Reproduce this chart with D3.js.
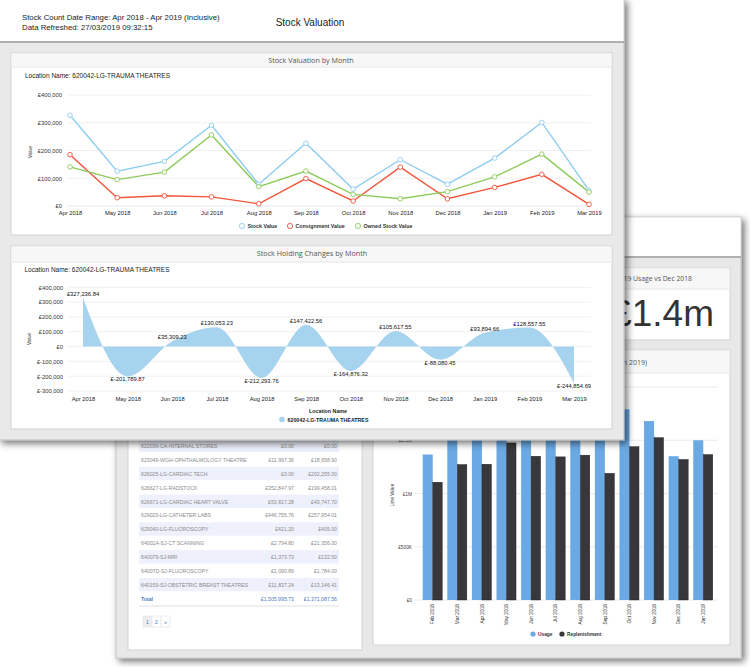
<!DOCTYPE html>
<html>
<head>
<meta charset="utf-8">
<script src="https://cdn.jsdelivr.net/npm/d3@7"></script>
<style>
  body { margin: 0; background: #fff; }
  svg { display: block; font-family: "Liberation Sans", Arial, sans-serif; }
</style>
</head>
<body>
<div id="chart"></div>
<script>
// ---- data ----
const months = ["Apr 2018", "May 2018", "Jun 2018", "Jul 2018", "Aug 2018", "Sep 2018",
    "Oct 2018", "Nov 2018", "Dec 2018", "Jan 2019", "Feb 2019", "Mar 2019"];
const stockValue = [327237, 125447, 160756, 290809, 78516, 225938, 61062, 166679, 78599, 172494, 301051, 56197];
const consignmentValue = [185000, 30000, 37000, 33000, 8000, 99000, 18000, 140000, 26000, 67000, 114000, 6000];
const ownedStockValue = [141000, 95000, 122000, 256000, 70000, 126000, 42000, 26000, 52000, 105000, 187000, 50000];
const valuationTicks = [0, 100000, 200000, 300000, 400000];

const holdingChanges = [327236.84, -201789.87, 35309.23, 130053.23, -212293.76, 147422.56,
    -164876.32, 105617.55, -88080.45, 93894.66, 128557.55, -244854.69];
const changeTicks = [-300000, -200000, -100000, 0, 100000, 200000, 300000, 400000];

const barMonths = ["Feb 2018", "Mar 2018", "Apr 2018", "May 2018", "Jun 2018", "Jul 2018",
    "Aug 2018", "Sep 2018", "Oct 2018", "Nov 2018", "Dec 2018", "Jan 2019"];
const usage = [1366000, 1620000, 1680000, 1900000, 1720000, 1760000, 1800000, 1850000, 1790000, 1680000, 1350000, 1500000];
const replenishment = [1106000, 1272000, 1275000, 1475000, 1350000, 1344000, 1360000, 1190000, 1440000, 1525000, 1320000, 1366000];
const barTicks = [0, 500000, 1000000, 1500000, 2000000];
const barTickLabels = ["£0", "£500K", "£1M", "£1.5M", "£2M"];

const locationNames = ["622036-CA-INTERNAL STORES", "623046-WGH-OPHTHALMOLOGY THEATRE", "626025-LG-CARDIAC TECH",
    "626627-LG-RADSTOCK", "626671-LG-CARDIAC HEART VALVE", "629020-LG-CATHETER LABS", "629040-LG-FLUOROSCOPY",
    "64002A-SJ-CT SCANNING", "640079-SJ-MRI", "64007D-SJ-FLUOROSCOPY", "640159-SJ-OBSTETRIC BREAST THEATRES"];
const locationUsage = [0.00, 11997.36, 0.00, 352847.97, 53817.28, 446755.76, 421.20, 2794.80, 1373.73, 1090.89, 11837.24];
const locationReplenishment = [0.00, 18658.90, 202255.00, 199458.01, 43747.70, 257954.01, 405.00, 21356.00, 132.50, 1784.00, 13146.41];
const totals = [1505995.73, 1371087.56];

const blue = "#8fcdf0", red = "#f2553c", green = "#8dcb5a";
const areaBlue = "#a6d4ee", usageBlue = "#6aa9e4", replDark = "#38383c";
const money = d3.format(",");
const money2 = d3.format(",.2f");
const fmtPound = v => (v < 0 ? "£-" : "£") + money(Math.abs(v));

const svg = d3.select("#chart").append("svg")
    .attr("width", 750)
    .attr("height", 667);

const filter = svg.append("defs").append("filter")
    .attr("id", "shadow")
    .attr("x", "-5%").attr("y", "-5%")
    .attr("width", "115%").attr("height", "115%");
filter.append("feDropShadow")
    .attr("dx", 3).attr("dy", 3)
    .attr("stdDeviation", 3.5)
    .attr("flood-color", "#000")
    .attr("flood-opacity", 0.55);

function card(g, x, y, w, h, headH) {
    g.append("rect").attr("x", x).attr("y", y).attr("width", w).attr("height", h)
        .attr("fill", "#fff").attr("stroke", "#d2d2d2");
    g.append("rect").attr("x", x + 0.5).attr("y", y + 0.5).attr("width", w - 1).attr("height", headH)
        .attr("fill", "#f7f7f7");
    g.append("line").attr("x1", x + 0.5).attr("x2", x + w - 0.5)
        .attr("y1", y + headH).attr("y2", y + headH)
        .attr("stroke", "#e8e8e8");
}

function styleAxis(axisG, size, color) {
    axisG.attr("font-family", null).attr("font-size", size);
    axisG.select(".domain").remove();
    axisG.selectAll("text").attr("fill", color);
}

// ================= back panel =================
function drawBackPanel() {
    const g = svg.append("g");
    g.append("rect").attr("x", 116).attr("y", 217).attr("width", 625).attr("height", 441)
        .attr("fill", "#e8e8e8").attr("stroke", "#c4c4c4").attr("filter", "url(#shadow)");
    g.append("rect").attr("x", 116.5).attr("y", 217.5).attr("width", 624).attr("height", 39.5).attr("fill", "#fff");
    g.append("line").attr("x1", 116).attr("x2", 741).attr("y1", 257).attr("y2", 257)
        .attr("stroke", "#9a9a9a").attr("stroke-width", 1.5);

    // KPI card
    card(g, 373, 268, 357, 72, 21);
    g.append("text").attr("x", 692).attr("y", 280.5).attr("text-anchor", "end")
        .attr("font-family", "Open Sans").attr("font-size", 6.8).attr("fill", "#555")
        .text("Jan 2019 Usage vs Dec 2018");
    g.append("text").attr("x", 714).attr("y", 326).attr("text-anchor", "end")
        .attr("font-size", 37).attr("fill", "#333")
        .text("£1.4m");

    // bar chart card
    card(g, 373, 350, 357, 295, 23);
    g.append("text").attr("x", 647).attr("y", 364.5).attr("text-anchor", "end")
        .attr("font-family", "Open Sans").attr("font-size", 7).attr("fill", "#555")
        .text("Usage vs Replenishment (Feb 2018 - Jan 2019)");

    const x = d3.scaleBand().domain(barMonths).range([420.5, 715.5])
        .paddingInner(0.185).paddingOuter(0.09);
    const xs = d3.scaleBand().domain(["usage", "repl"]).range([0, x.bandwidth()]);
    const y = d3.scaleLinear().domain([0, 2000000]).range([600, 387]);

    g.selectAll(".bgrid").data(barTicks).enter().append("line")
        .attr("x1", 415).attr("x2", 718)
        .attr("y1", d => y(d)).attr("y2", d => y(d))
        .attr("stroke", "#e6e6e6").attr("stroke-width", 0.8);

    const ya = g.append("g").attr("transform", "translate(415,0)")
        .call(d3.axisLeft(y).tickValues(barTicks).tickSize(0).tickPadding(3)
            .tickFormat((d, i) => barTickLabels[i]));
    styleAxis(ya, 4.8, "#444");

    g.append("text").attr("transform", "translate(394,495) rotate(-90)")
        .attr("text-anchor", "middle").attr("font-size", 4.8).attr("fill", "#333")
        .text("Line Value");

    const groups = g.selectAll(".bgroup").data(barMonths).enter().append("g")
        .attr("transform", d => `translate(${x(d)},0)`);
    groups.append("rect")
        .attr("x", xs("usage")).attr("width", xs.bandwidth())
        .attr("y", (d, i) => y(usage[i])).attr("height", (d, i) => y(0) - y(usage[i]))
        .attr("fill", usageBlue);
    groups.append("rect")
        .attr("x", xs("repl")).attr("width", xs.bandwidth() - 0.5)
        .attr("y", (d, i) => y(replenishment[i])).attr("height", (d, i) => y(0) - y(replenishment[i]))
        .attr("fill", replDark).attr("stroke", "#222").attr("stroke-width", 0.4);

    const xa = g.append("g").attr("transform", "translate(0,600)")
        .call(d3.axisBottom(x).tickSize(0));
    styleAxis(xa, 4.8, "#333");
    xa.selectAll("text")
        .attr("text-anchor", "end")
        .attr("transform", "rotate(-90)")
        .attr("x", -4).attr("y", 0).attr("dy", "0.35em");

    const legend = [["Usage", usageBlue, 533], ["Replenishment", replDark, 562]];
    legend.forEach(([name, col, lx]) => {
        g.append("circle").attr("cx", lx).attr("cy", 634).attr("r", 2.6).attr("fill", col);
        g.append("text").attr("x", lx + 5).attr("y", 635.8)
            .attr("font-size", 4.8).attr("font-weight", "bold").attr("fill", "#333").text(name);
    });

    // table card
    card(g, 128, 300, 234, 350, 22);
    const rowTop = 439, rowH = 13.9;
    const rows = g.selectAll(".trow").data(locationNames).enter().append("g")
        .attr("transform", (d, i) => `translate(0,${rowTop + i * rowH})`);
    rows.append("rect").attr("x", 139).attr("width", 200).attr("y", 0).attr("height", rowH - 0.6)
        .attr("fill", (d, i) => i % 2 === 0 ? "#eef0fb" : "#fff");
    rows.append("text").attr("x", 141).attr("y", rowH / 2 + 2)
        .attr("font-size", 5.2).attr("fill", "#8a8a8a").text(d => d);
    rows.append("text").attr("x", 294).attr("y", rowH / 2 + 2).attr("text-anchor", "end")
        .attr("font-size", 5.2).attr("fill", "#8a8a8a").text((d, i) => "£" + money2(locationUsage[i]));
    rows.append("text").attr("x", 337).attr("y", rowH / 2 + 2).attr("text-anchor", "end")
        .attr("font-size", 5.2).attr("fill", "#8a8a8a").text((d, i) => "£" + money2(locationReplenishment[i]));

    const totalY = rowTop + locationNames.length * rowH + rowH / 2 + 2;
    g.append("text").attr("x", 141).attr("y", totalY)
        .attr("font-size", 5.2).attr("font-weight", "bold").attr("fill", "#4a7cc0").text("Total");
    g.append("text").attr("x", 294).attr("y", totalY).attr("text-anchor", "end")
        .attr("font-size", 5.2).attr("fill", "#4a7cc0").text("£" + money2(totals[0]));
    g.append("text").attr("x", 337).attr("y", totalY).attr("text-anchor", "end")
        .attr("font-size", 5.2).attr("fill", "#4a7cc0").text("£" + money2(totals[1]));
    g.append("line").attr("x1", 139).attr("x2", 339).attr("y1", 606).attr("y2", 606)
        .attr("stroke", "#d8d8d8").attr("stroke-width", 0.8);

    const pages = ["1", "2", "»"];
    pages.forEach((p, i) => {
        const px = 143 + i * 9;
        g.append("rect").attr("x", px).attr("y", 616).attr("width", 9).attr("height", 11)
            .attr("fill", i === 0 ? "#eee" : "#fff").attr("stroke", "#e2e2e2").attr("stroke-width", 0.6);
        g.append("text").attr("x", px + 4.5).attr("y", 623.5).attr("text-anchor", "middle")
            .attr("font-size", 5).attr("fill", "#3a78c2").text(p);
    });
}

// ================= front panel =================
function drawFrontPanel() {
    const g = svg.append("g");
    g.append("rect").attr("x", -1).attr("y", -1).attr("width", 625).attr("height", 441)
        .attr("fill", "#e9e9e9").attr("stroke", "#bdbdbd").attr("filter", "url(#shadow)");
    g.append("rect").attr("x", 0).attr("y", 0).attr("width", 623.5).attr("height", 42).attr("fill", "#fff");
    g.append("line").attr("x1", 0).attr("x2", 624).attr("y1", 42).attr("y2", 42)
        .attr("stroke", "#999").attr("stroke-width", 1.5);

    g.append("text").attr("x", 22).attr("y", 19.5).attr("font-size", 7.8).attr("fill", "#222")
        .text("Stock Count Date Range: Apr 2018 - Apr 2019 (Inclusive)");
    g.append("text").attr("x", 22).attr("y", 30).attr("font-size", 7.8).attr("fill", "#222")
        .text("Data Refreshed: 27/03/2019 09:32:15");
    g.append("text").attr("x", 310).attr("y", 25.5).attr("text-anchor", "middle")
        .attr("font-size", 10).attr("fill", "#222").text("Stock Valuation");

    drawValuationChart(g);
    drawChangesChart(g);
}

function drawValuationChart(g) {
    card(g, 11, 53, 601, 182, 14);
    g.append("text").attr("x", 311).attr("y", 62.5).attr("text-anchor", "middle")
        .attr("font-family", "Open Sans").attr("font-size", 7.2).attr("fill", "#555")
        .text("Stock Valuation by Month");
    g.append("text").attr("x", 25).attr("y", 78).attr("font-size", 6.5).attr("fill", "#222")
        .text("Location Name: 620042-LG-TRAUMA THEATRES");

    const x = d3.scalePoint().domain(months).range([70, 589]);
    const y = d3.scaleLinear().domain([0, 400000]).range([206, 95]);

    g.selectAll(".vgrid").data(valuationTicks).enter().append("line")
        .attr("x1", 67).attr("x2", 591)
        .attr("y1", d => y(d)).attr("y2", d => y(d))
        .attr("stroke", (d) => d === 0 ? "#dde3ee" : "#eeeeee").attr("stroke-width", 0.8);

    const ya = g.append("g").attr("transform", "translate(67,0)")
        .call(d3.axisLeft(y).tickValues(valuationTicks).tickSize(0).tickPadding(5).tickFormat(fmtPound));
    styleAxis(ya, 5.8, "#333");

    const xa = g.append("g").attr("transform", "translate(0,206)")
        .call(d3.axisBottom(x).tickSize(0).tickPadding(5));
    styleAxis(xa, 5.8, "#222");

    g.append("text").attr("transform", "translate(32,152) rotate(-90)")
        .attr("text-anchor", "middle").attr("font-size", 4.8).attr("fill", "#333").text("Value");

    const series = [[stockValue, blue], [consignmentValue, red], [ownedStockValue, green]];
    series.forEach(([vals, col]) => {
        const line = d3.line().x((d, i) => x(months[i])).y(d => y(d));
        g.append("path").datum(vals).attr("d", line)
            .attr("fill", "none").attr("stroke", col).attr("stroke-width", 1.4);
    });
    series.forEach(([vals, col]) => {
        g.selectAll(null).data(vals).enter().append("circle")
            .attr("cx", (d, i) => x(months[i])).attr("cy", d => y(d)).attr("r", 2.3)
            .attr("fill", "#fff").attr("stroke", col).attr("stroke-width", 0.9);
    });

    const legend = [["Stock Value", blue, 242], ["Consignment Value", red, 290], ["Owned Stock Value", green, 358]];
    legend.forEach(([name, col, lx]) => {
        g.append("circle").attr("cx", lx).attr("cy", 226).attr("r", 2.6)
            .attr("fill", "#fff").attr("stroke", col).attr("stroke-width", 0.9);
        g.append("text").attr("x", lx + 5.5).attr("y", 228)
            .attr("font-size", 5.3).attr("font-weight", "bold").attr("fill", "#333").text(name);
    });
}

function drawChangesChart(g) {
    card(g, 11, 246, 601, 183, 16);
    g.append("text").attr("x", 312).attr("y", 256).attr("text-anchor", "middle")
        .attr("font-family", "Open Sans").attr("font-size", 7.2).attr("fill", "#555")
        .text("Stock Holding Changes by Month");
    g.append("text").attr("x", 24.5).attr("y", 271.5).attr("font-size", 6.5).attr("fill", "#222")
        .text("Location Name: 620042-LG-TRAUMA THEATRES");

    const x = d3.scalePoint().domain(months).range([83, 574]);
    const y = d3.scaleLinear().domain([-300000, 400000]).range([391, 287.3]);

    g.selectAll(".cgrid").data(changeTicks).enter().append("line")
        .attr("x1", 67).attr("x2", 591)
        .attr("y1", d => y(d)).attr("y2", d => y(d))
        .attr("stroke", "#eeeeee").attr("stroke-width", 0.8);

    const ya = g.append("g").attr("transform", "translate(67,0)")
        .call(d3.axisLeft(y).tickValues(changeTicks).tickSize(0).tickPadding(4).tickFormat(fmtPound));
    styleAxis(ya, 5.8, "#333");

    const xa = g.append("g").attr("transform", "translate(0,391)")
        .call(d3.axisBottom(x).tickSize(0).tickPadding(6));
    styleAxis(xa, 5.8, "#222");

    g.append("text").attr("transform", "translate(31,339) rotate(-90)")
        .attr("text-anchor", "middle").attr("font-size", 4.8).attr("fill", "#333").text("Value");

    const area = d3.area()
        .x((d, i) => x(months[i]))
        .y0(y(0))
        .y1(d => y(d))
        .curve(d3.curveMonotoneX);
    g.append("path").datum(holdingChanges).attr("d", area).attr("fill", areaBlue);

    g.selectAll(".clabel").data(holdingChanges).enter().append("text")
        .attr("x", (d, i) => x(months[i]))
        .attr("y", d => d >= 0 ? y(d) - 2 : y(d) + 5)
        .attr("text-anchor", "middle").attr("font-size", 5.8).attr("fill", "#111")
        .text(d => (d < 0 ? "£-" : "£") + money2(Math.abs(d)));

    g.append("text").attr("x", 328).attr("y", 412.5).attr("text-anchor", "middle")
        .attr("font-size", 5.3).attr("font-weight", "bold").attr("fill", "#222").text("Location Name");
    g.append("circle").attr("cx", 282).attr("cy", 419.5).attr("r", 2.8).attr("fill", areaBlue);
    g.append("text").attr("x", 287.5).attr("y", 421.5)
        .attr("font-size", 5.3).attr("font-weight", "bold").attr("fill", "#222").text("620042-LG-TRAUMA THEATRES");
}

drawBackPanel();
drawFrontPanel();
</script>
</body>
</html>
